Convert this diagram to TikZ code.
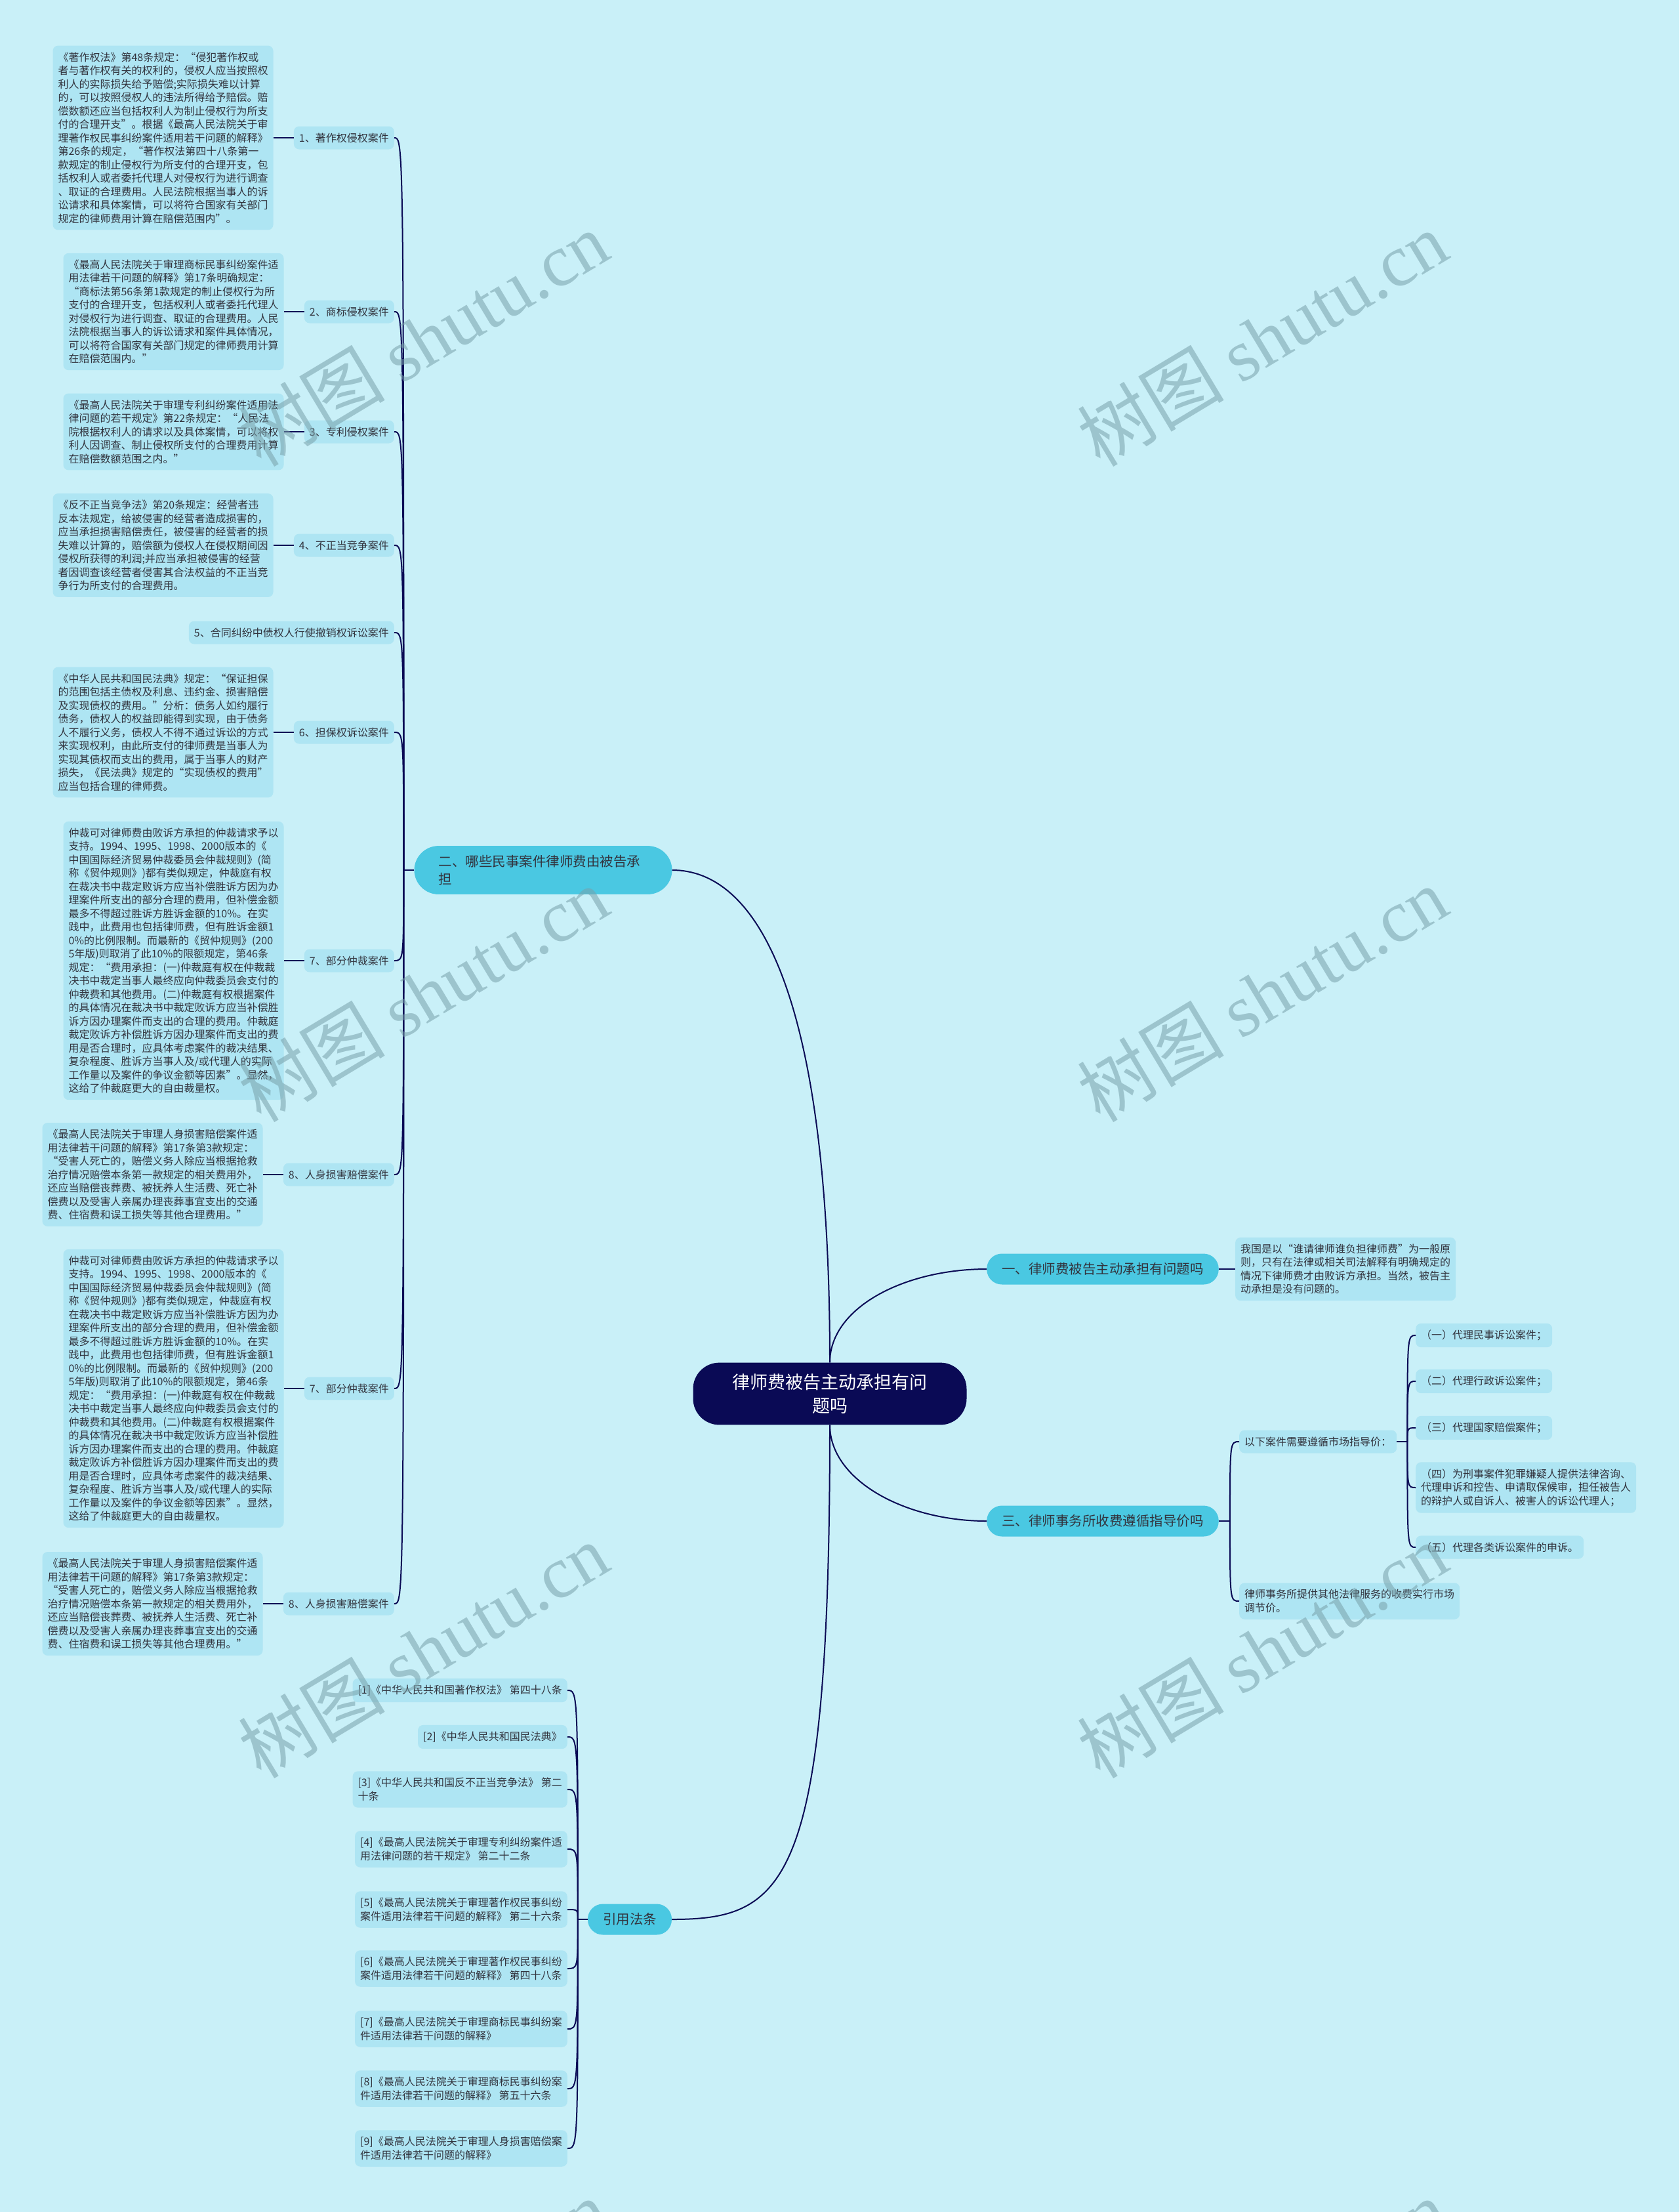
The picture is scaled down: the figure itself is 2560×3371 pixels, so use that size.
\documentclass[tikz,border=0pt]{standalone}
\usepackage{fontspec}
\setmainfont{Noto Sans CJK SC}
\newfontfamily\wmlatin{Liberation Serif}
\usetikzlibrary{positioning}
\definecolor{bgcyan}{RGB}{201,240,248}
\definecolor{boxblue}{RGB}{174,229,243}
\definecolor{topblue}{RGB}{74,200,226}
\definecolor{navy}{RGB}{10,10,85}
\definecolor{inkgray}{RGB}{50,52,62}
\definecolor{wmgray}{RGB}{120,160,170}
\begin{document}
\begin{tikzpicture}[x=1pt,y=1pt,
  leafbox/.style={fill=boxblue,rounded corners=8pt,align=left,inner xsep=8pt,inner ysep=10pt,minimum height=35pt,text=inkgray,font=\fontsize{16}{20.5}\selectfont},
  mainbox/.style={fill=topblue,rounded corners=23pt,align=left,inner xsep=23pt,minimum height=47pt,text=inkgray,font=\fontsize{20.5}{27}\selectfont},
  rootbox/.style={fill=navy,rounded corners=40pt,align=center,inner xsep=60pt,inner ysep=17pt,text=white,font=\fontsize{27}{36}\selectfont},
  limb/.style={navy,line width=2pt},
  twig/.style={navy,line width=2.6pt},
  wmark/.style={rotate=31,text=wmgray,opacity=.55,font=\fontsize{112}{112}\selectfont}]
\fill[bgcyan](0,0)rectangle(2560,-3371);
\useasboundingbox(0,0)rectangle(2560,-3371);
% centre and main branches
\node[rootbox](root) at (1265,-2124) {律师费被告主动承担有问\\题吗};
\node[mainbox,text width=319pt,inner xsep=37pt,inner ysep=14pt,rounded corners=37pt](civil) at (828,-1326) {二、哪些民事案件律师费由被告承\\担};
\node[mainbox](bear) at (1681,-1934) {一、律师费被告主动承担有问题吗};
\node[mainbox](guide) at (1681,-2318) {三、律师事务所收费遵循指导价吗};
\node[mainbox](laws) at (960,-2925) {引用法条};
\draw[limb](civil.east) .. controls +(125,0) and +(0,575) .. (root.north);
\draw[limb](root.north) .. controls +(0,84) and +(-125,0) .. (bear.west);
\draw[limb](root.south) .. controls +(0,-84) and +(-125,0) .. (guide.west);
\draw[limb](root.south) .. controls +(0,-700) and +(175,0) .. (laws.east);
% branch one
\node[leafbox,right=25pt of bear](bearinfo) {我国是以“谁请律师谁负担律师费”为一般原\\则，只有在法律或相关司法解释有明确规定的\\情况下律师费才由败诉方承担。当然，被告主\\动承担是没有问题的。};
\draw[twig](bear)--(bearinfo);
% branch two: the cases
\node[leafbox,anchor=east](copy) at (601,-210) {1、著作权侵权案件};
\node[leafbox,anchor=east](tm) at (601,-475) {2、商标侵权案件};
\node[leafbox,anchor=east](patent) at (601,-658) {3、专利侵权案件};
\node[leafbox,anchor=east](unfair) at (601,-831) {4、不正当竞争案件};
\node[leafbox,anchor=east](revoke) at (601,-964) {5、合同纠纷中债权人行使撤销权诉讼案件};
\node[leafbox,anchor=east](surety) at (601,-1116) {6、担保权诉讼案件};
\node[leafbox,anchor=east](arb) at (601,-1464) {7、部分仲裁案件};
\node[leafbox,anchor=east](injury) at (601,-1790) {8、人身损害赔偿案件};
\node[leafbox,anchor=east](arbb) at (601,-2116) {7、部分仲裁案件};
\node[leafbox,anchor=east](injuryb) at (601,-2444) {8、人身损害赔偿案件};
\node[leafbox,left=31pt of copy](copytxt) {《著作权法》第48条规定：“侵犯著作权或\\者与著作权有关的权利的，侵权人应当按照权\\利人的实际损失给予赔偿;实际损失难以计算\\的，可以按照侵权人的违法所得给予赔偿。赔\\偿数额还应当包括权利人为制止侵权行为所支\\付的合理开支”。根据《最高人民法院关于审\\理著作权民事纠纷案件适用若干问题的解释》\\第26条的规定，“著作权法第四十八条第一\\款规定的制止侵权行为所支付的合理开支，包\\括权利人或者委托代理人对侵权行为进行调查\\、取证的合理费用。人民法院根据当事人的诉\\讼请求和具体案情，可以将符合国家有关部门\\规定的律师费用计算在赔偿范围内”。};
\node[leafbox,left=31pt of tm](tmtxt) {《最高人民法院关于审理商标民事纠纷案件适\\用法律若干问题的解释》第17条明确规定：\\“商标法第56条第1款规定的制止侵权行为所\\支付的合理开支，包括权利人或者委托代理人\\对侵权行为进行调查、取证的合理费用。人民\\法院根据当事人的诉讼请求和案件具体情况，\\可以将符合国家有关部门规定的律师费用计算\\在赔偿范围内。”};
\node[leafbox,left=31pt of patent](patenttxt) {《最高人民法院关于审理专利纠纷案件适用法\\律问题的若干规定》第22条规定：“人民法\\院根据权利人的请求以及具体案情，可以将权\\利人因调查、制止侵权所支付的合理费用计算\\在赔偿数额范围之内。”};
\node[leafbox,left=31pt of unfair](unfairtxt) {《反不正当竞争法》第20条规定：经营者违\\反本法规定，给被侵害的经营者造成损害的，\\应当承担损害赔偿责任，被侵害的经营者的损\\失难以计算的，赔偿额为侵权人在侵权期间因\\侵权所获得的利润;并应当承担被侵害的经营\\者因调查该经营者侵害其合法权益的不正当竞\\争行为所支付的合理费用。};
\node[leafbox,left=31pt of surety](suretytxt) {《中华人民共和国民法典》规定：“保证担保\\的范围包括主债权及利息、违约金、损害赔偿\\及实现债权的费用。”分析：债务人如约履行\\债务，债权人的权益即能得到实现，由于债务\\人不履行义务，债权人不得不通过诉讼的方式\\来实现权利，由此所支付的律师费是当事人为\\实现其债权而支出的费用，属于当事人的财产\\损失，《民法典》规定的“实现债权的费用”\\应当包括合理的律师费。};
\node[leafbox,left=31pt of arb](arbtxt) {仲裁可对律师费由败诉方承担的仲裁请求予以\\支持。1994、1995、1998、2000版本的《\\中国国际经济贸易仲裁委员会仲裁规则》(简\\称《贸仲规则》)都有类似规定，仲裁庭有权\\在裁决书中裁定败诉方应当补偿胜诉方因为办\\理案件所支出的部分合理的费用，但补偿金额\\最多不得超过胜诉方胜诉金额的10\%。在实\\践中，此费用也包括律师费，但有胜诉金额1\\0\%的比例限制。而最新的《贸仲规则》(200\\5年版)则取消了此10\%的限额规定，第46条\\规定：“费用承担：(一)仲裁庭有权在仲裁裁\\决书中裁定当事人最终应向仲裁委员会支付的\\仲裁费和其他费用。(二)仲裁庭有权根据案件\\的具体情况在裁决书中裁定败诉方应当补偿胜\\诉方因办理案件而支出的合理的费用。仲裁庭\\裁定败诉方补偿胜诉方因办理案件而支出的费\\用是否合理时，应具体考虑案件的裁决结果、\\复杂程度、胜诉方当事人及/或代理人的实际\\工作量以及案件的争议金额等因素”。显然，\\这给了仲裁庭更大的自由裁量权。};
\node[leafbox,left=31pt of injury](injurytxt) {《最高人民法院关于审理人身损害赔偿案件适\\用法律若干问题的解释》第17条第3款规定：\\“受害人死亡的，赔偿义务人除应当根据抢救\\治疗情况赔偿本条第一款规定的相关费用外，\\还应当赔偿丧葬费、被抚养人生活费、死亡补\\偿费以及受害人亲属办理丧葬事宜支出的交通\\费、住宿费和误工损失等其他合理费用。”};
\node[leafbox,left=31pt of arbb](arbbtxt) {仲裁可对律师费由败诉方承担的仲裁请求予以\\支持。1994、1995、1998、2000版本的《\\中国国际经济贸易仲裁委员会仲裁规则》(简\\称《贸仲规则》)都有类似规定，仲裁庭有权\\在裁决书中裁定败诉方应当补偿胜诉方因为办\\理案件所支出的部分合理的费用，但补偿金额\\最多不得超过胜诉方胜诉金额的10\%。在实\\践中，此费用也包括律师费，但有胜诉金额1\\0\%的比例限制。而最新的《贸仲规则》(200\\5年版)则取消了此10\%的限额规定，第46条\\规定：“费用承担：(一)仲裁庭有权在仲裁裁\\决书中裁定当事人最终应向仲裁委员会支付的\\仲裁费和其他费用。(二)仲裁庭有权根据案件\\的具体情况在裁决书中裁定败诉方应当补偿胜\\诉方因办理案件而支出的合理的费用。仲裁庭\\裁定败诉方补偿胜诉方因办理案件而支出的费\\用是否合理时，应具体考虑案件的裁决结果、\\复杂程度、胜诉方当事人及/或代理人的实际\\工作量以及案件的争议金额等因素”。显然，\\这给了仲裁庭更大的自由裁量权。};
\node[leafbox,left=31pt of injuryb](injurybtxt) {《最高人民法院关于审理人身损害赔偿案件适\\用法律若干问题的解释》第17条第3款规定：\\“受害人死亡的，赔偿义务人除应当根据抢救\\治疗情况赔偿本条第一款规定的相关费用外，\\还应当赔偿丧葬费、被抚养人生活费、死亡补\\偿费以及受害人亲属办理丧葬事宜支出的交通\\费、住宿费和误工损失等其他合理费用。”};
\draw[twig](copytxt)--(copy);
\draw[twig](tmtxt)--(tm);
\draw[twig](patenttxt)--(patent);
\draw[twig](unfairtxt)--(unfair);
\draw[twig](suretytxt)--(surety);
\draw[twig](arbtxt)--(arb);
\draw[twig](injurytxt)--(injury);
\draw[twig](arbbtxt)--(arbb);
\draw[twig](injurybtxt)--(injuryb);
\coordinate(civilfork) at ([xshift=-16pt]civil.west);
\draw[limb](civil.west)--(civilfork);
\draw[limb](civilfork) .. controls (civilfork |- copy.east) .. (copy.east);
\draw[limb](civilfork) .. controls (civilfork |- tm.east) .. (tm.east);
\draw[limb](civilfork) .. controls (civilfork |- patent.east) .. (patent.east);
\draw[limb](civilfork) .. controls (civilfork |- unfair.east) .. (unfair.east);
\draw[limb](civilfork) .. controls (civilfork |- revoke.east) .. (revoke.east);
\draw[limb](civilfork) .. controls (civilfork |- surety.east) .. (surety.east);
\draw[limb](civilfork) .. controls (civilfork |- arb.east) .. (arb.east);
\draw[limb](civilfork) .. controls (civilfork |- injury.east) .. (injury.east);
\draw[limb](civilfork) .. controls (civilfork |- arbb.east) .. (arbb.east);
\draw[limb](civilfork) .. controls (civilfork |- injuryb.east) .. (injuryb.east);
% branch three
\node[leafbox,anchor=west](market) at (1889,-2197) {以下案件需要遵循市场指导价：};
\node[leafbox,anchor=west](adjust) at (1889,-2440) {律师事务所提供其他法律服务的收费实行市场\\调节价。};
\node[leafbox,anchor=west](civilsuit) at (2158,-2035) {（一）代理民事诉讼案件；};
\node[leafbox,anchor=west](adminsuit) at (2158,-2105) {（二）代理行政诉讼案件；};
\node[leafbox,anchor=west](statecomp) at (2158,-2176) {（三）代理国家赔偿案件；};
\node[leafbox,anchor=west](criminal) at (2158,-2267) {（四）为刑事案件犯罪嫌疑人提供法律咨询、\\代理申诉和控告、申请取保候审，担任被告人\\的辩护人或自诉人、被害人的诉讼代理人；};
\node[leafbox,anchor=west](appeal) at (2158,-2358) {（五）代理各类诉讼案件的申诉。};
\coordinate(guidefork) at ([xshift=17pt]guide.east);
\draw[limb](guide.east)--(guidefork);
\draw[limb](guidefork) .. controls (guidefork |- market.west) .. (market.west);
\draw[limb](guidefork) .. controls (guidefork |- adjust.west) .. (adjust.west);
\coordinate(marketfork) at ([xshift=16pt]market.east);
\draw[limb](market.east)--(marketfork);
\draw[limb](marketfork) .. controls (marketfork |- civilsuit.west) .. (civilsuit.west);
\draw[limb](marketfork) .. controls (marketfork |- adminsuit.west) .. (adminsuit.west);
\draw[limb](marketfork) .. controls (marketfork |- statecomp.west) .. (statecomp.west);
\draw[limb](marketfork) .. controls (marketfork |- criminal.west) .. (criminal.west);
\draw[limb](marketfork) .. controls (marketfork |- appeal.west) .. (appeal.west);
% references
\node[leafbox,anchor=east](ref1) at (865,-2576) {[1]《中华人民共和国著作权法》 第四十八条};
\node[leafbox,anchor=east](ref2) at (865,-2647) {[2]《中华人民共和国民法典》};
\node[leafbox,anchor=east](ref3) at (865,-2727) {[3]《中华人民共和国反不正当竞争法》 第二\\十条};
\node[leafbox,anchor=east](ref4) at (865,-2818) {[4]《最高人民法院关于审理专利纠纷案件适\\用法律问题的若干规定》 第二十二条};
\node[leafbox,anchor=east](ref5) at (865,-2910) {[5]《最高人民法院关于审理著作权民事纠纷\\案件适用法律若干问题的解释》 第二十六条};
\node[leafbox,anchor=east](ref6) at (865,-3000) {[6]《最高人民法院关于审理著作权民事纠纷\\案件适用法律若干问题的解释》 第四十八条};
\node[leafbox,anchor=east](ref7) at (865,-3092) {[7]《最高人民法院关于审理商标民事纠纷案\\件适用法律若干问题的解释》};
\node[leafbox,anchor=east](ref8) at (865,-3183) {[8]《最高人民法院关于审理商标民事纠纷案\\件适用法律若干问题的解释》 第五十六条};
\node[leafbox,anchor=east](ref9) at (865,-3274) {[9]《最高人民法院关于审理人身损害赔偿案\\件适用法律若干问题的解释》};
\coordinate(lawsfork) at ([xshift=-15pt]laws.west);
\draw[limb](laws.west)--(lawsfork);
\draw[limb](lawsfork) .. controls (lawsfork |- ref1.east) .. (ref1.east);
\draw[limb](lawsfork) .. controls (lawsfork |- ref2.east) .. (ref2.east);
\draw[limb](lawsfork) .. controls (lawsfork |- ref3.east) .. (ref3.east);
\draw[limb](lawsfork) .. controls (lawsfork |- ref4.east) .. (ref4.east);
\draw[limb](lawsfork) .. controls (lawsfork |- ref5.east) .. (ref5.east);
\draw[limb](lawsfork) .. controls (lawsfork |- ref6.east) .. (ref6.east);
\draw[limb](lawsfork) .. controls (lawsfork |- ref7.east) .. (ref7.east);
\draw[limb](lawsfork) .. controls (lawsfork |- ref8.east) .. (ref8.east);
\draw[limb](lawsfork) .. controls (lawsfork |- ref9.east) .. (ref9.east);
% watermarks
\node[wmark] at (645,-516) {树图 {\wmlatin shutu.cn}};
\node[wmark] at (1924,-516) {树图 {\wmlatin shutu.cn}};
\node[wmark] at (645,-1515) {树图 {\wmlatin shutu.cn}};
\node[wmark] at (1924,-1515) {树图 {\wmlatin shutu.cn}};
\node[wmark] at (645,-2515) {树图 {\wmlatin shutu.cn}};
\node[wmark] at (1924,-2515) {树图 {\wmlatin shutu.cn}};
\node[wmark] at (645,-3515) {树图 {\wmlatin shutu.cn}};
\node[wmark] at (1924,-3515) {树图 {\wmlatin shutu.cn}};
\end{tikzpicture}
\end{document}
